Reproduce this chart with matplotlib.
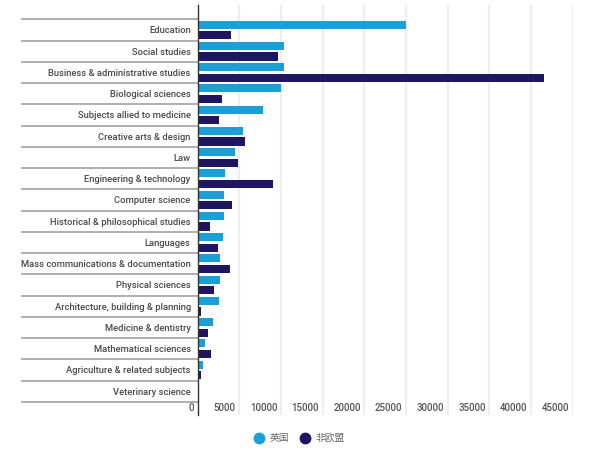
import numpy as np
import matplotlib
matplotlib.use('Agg')
import matplotlib.pyplot as plt
from matplotlib.lines import Line2D
from matplotlib.transforms import ScaledTranslation

plt.rcParams['font.family'] = ['Roboto', 'Noto Sans CJK SC', 'DejaVu Sans']

categories = [
    'Education', 'Social studies', 'Business & administrative studies',
    'Biological sciences', 'Subjects allied to medicine', 'Creative arts & design',
    'Law', 'Engineering & technology', 'Computer science',
    'Historical & philosophical studies', 'Languages',
    'Mass communications & documentation', 'Physical sciences',
    'Architecture, building & planning', 'Medicine & dentistry',
    'Mathematical sciences', 'Agriculture & related subjects', 'Veterinary science',
]
uk = [25000, 10400, 10350, 10000, 7850, 5400, 4450, 3300, 3150,
      3150, 3000, 2750, 2750, 2550, 1850, 900, 650, 80]
non_eu = [4050, 9700, 41600, 2900, 2550, 5650, 4800, 9050, 4100,
          1500, 2500, 3850, 2000, 450, 1300, 1600, 450, 100]
series_names = ['英国', '非欧盟']
xticks = [0, 5000, 10000, 15000, 20000, 25000, 30000, 35000, 40000, 45000]

c_uk = '#1a9fd6'
c_non = '#1e1660'

fig = plt.figure(figsize=(6, 4.58), dpi=100)
ax = fig.add_axes([197.5 / 600, 1 - 415 / 458, (572.7 - 197.5) / 600, 410 / 458])

y = np.arange(len(categories))
ax.barh(y - 0.25, uk, height=0.38, color=c_uk, zorder=3)
ax.barh(y + 0.25, non_eu, height=0.38, color=c_non, zorder=3)

ax.set_xlim(0, 45000)
ax.set_ylim(18.12, -1.173)

# category labels, separators drawn as long minor ticks
ax.set_yticks(y)
ax.set_yticklabels(categories, fontsize=6.75, color='#4a4a4a', fontweight='medium')
ax.set_yticks(np.arange(-0.5, len(categories)), minor=True)
ax.tick_params(axis='y', which='major', length=0, pad=4.9)
ax.tick_params(axis='y', which='minor', length=127.5, width=1.1, color='#9a9a9a')

ax.set_xticks(xticks)
ax.set_xticklabels([str(v) for v in xticks], fontsize=7.0, color='#555555', fontweight='medium')
ax.tick_params(axis='x', length=0, pad=-8.5)
for lbl in ax.get_xticklabels():
    lbl.set_horizontalalignment('right')
    lbl.set_transform(lbl.get_transform() + ScaledTranslation(-0.035, 0, fig.dpi_scale_trans))

ax.grid(axis='x', color='#eeeeee', linewidth=1.6, zorder=0)
ax.set_axisbelow(True)
for s in ['top', 'right', 'bottom']:
    ax.spines[s].set_visible(False)
ax.spines['left'].set_color('#333333')
ax.spines['left'].set_linewidth(1.0)
ax.spines['left'].set_zorder(4)

handles = [Line2D([], [], marker='o', linestyle='', markersize=7.5, color=c)
           for c in (c_uk, c_non)]
leg = fig.legend(handles, series_names, loc='center', ncol=2,
                 bbox_to_anchor=(299 / 600, 1 - 438 / 458), frameon=False,
                 fontsize=7.0, handletextpad=0.5, columnspacing=1.0,
                 handlelength=1.2)
for t in leg.get_texts():
    t.set_color('#666666')

fig.savefig('out.png', dpi=100)
